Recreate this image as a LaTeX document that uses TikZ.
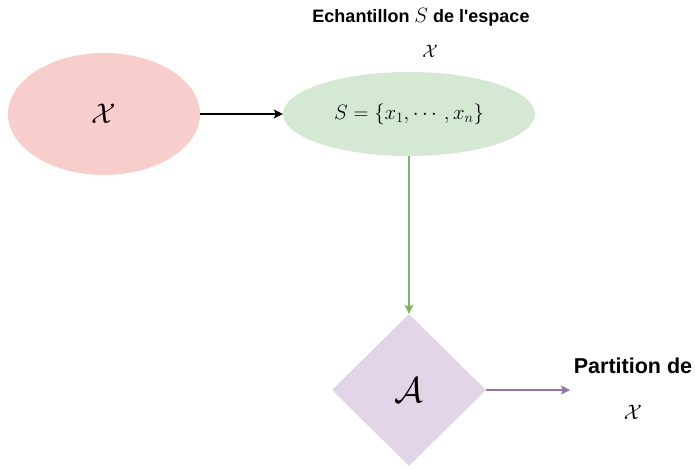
\documentclass[tikz,border=0pt]{standalone}
\usepackage{fontspec}
\usepackage{amsmath}
\usepackage{graphicx}
\newfontfamily\labelfont{Liberation Sans}
\usetikzlibrary{shapes.geometric,arrows.meta}
\definecolor{redfill}{HTML}{F8CECC}
\definecolor{greenfill}{HTML}{D5E8D4}
\definecolor{greenline}{HTML}{82B366}
\definecolor{purplefill}{HTML}{E1D5E7}
\definecolor{purpleline}{HTML}{9673A6}
\tikzset{
  blob/.style={ellipse, inner sep=0pt},
  lbl/.style={font=\labelfont\bfseries\fontsize{18}{21}\selectfont, inner sep=0pt},
  conn/.style={line width=1.4pt, -{Stealth[length=9pt,width=9pt,inset=2pt]}},
}
\begin{document}
\begin{tikzpicture}[x=1pt,y=-1pt]
\useasboundingbox (0,0) rectangle (695,468);
\node[blob, fill=redfill, minimum width=192pt, minimum height=122pt] (X) at (104,114) {\scalebox{2.85}{$\mathcal{X}$}};
\node[blob, fill=greenfill, minimum width=252pt, minimum height=84pt] (S) at (409,114) {\fontsize{20}{24}\selectfont$S=\{x_1,\cdots,x_n\}$};
\node[lbl] (title) at (421,17) {Echantillon \textnormal{\fontsize{20}{24}\selectfont$S$} de l'espace};
\node[inner sep=0pt] (titleX) at (430,51) {\scalebox{1.8}{$\mathcal{X}$}};
\node[diamond, fill=purplefill, inner sep=0pt, minimum width=154pt, minimum height=152pt] (A) at (409,390) {\scalebox{3.6}{$\mathcal{A}$}};
\coordinate (P) at (570,390);
\node[lbl, font=\labelfont\bfseries\fontsize{21.5}{26}\selectfont] (part) at (633,366) {Partition de};
\node[inner sep=0pt] (partX) at (633,412) {\scalebox{2.1}{$\mathcal{X}$}};
\draw[conn, black] (X.east) -- (S.west);
\draw[conn, greenline] (S.south) -- (A.north);
\draw[conn, purpleline] (A.east) -- (P);
\end{tikzpicture}
\end{document}
